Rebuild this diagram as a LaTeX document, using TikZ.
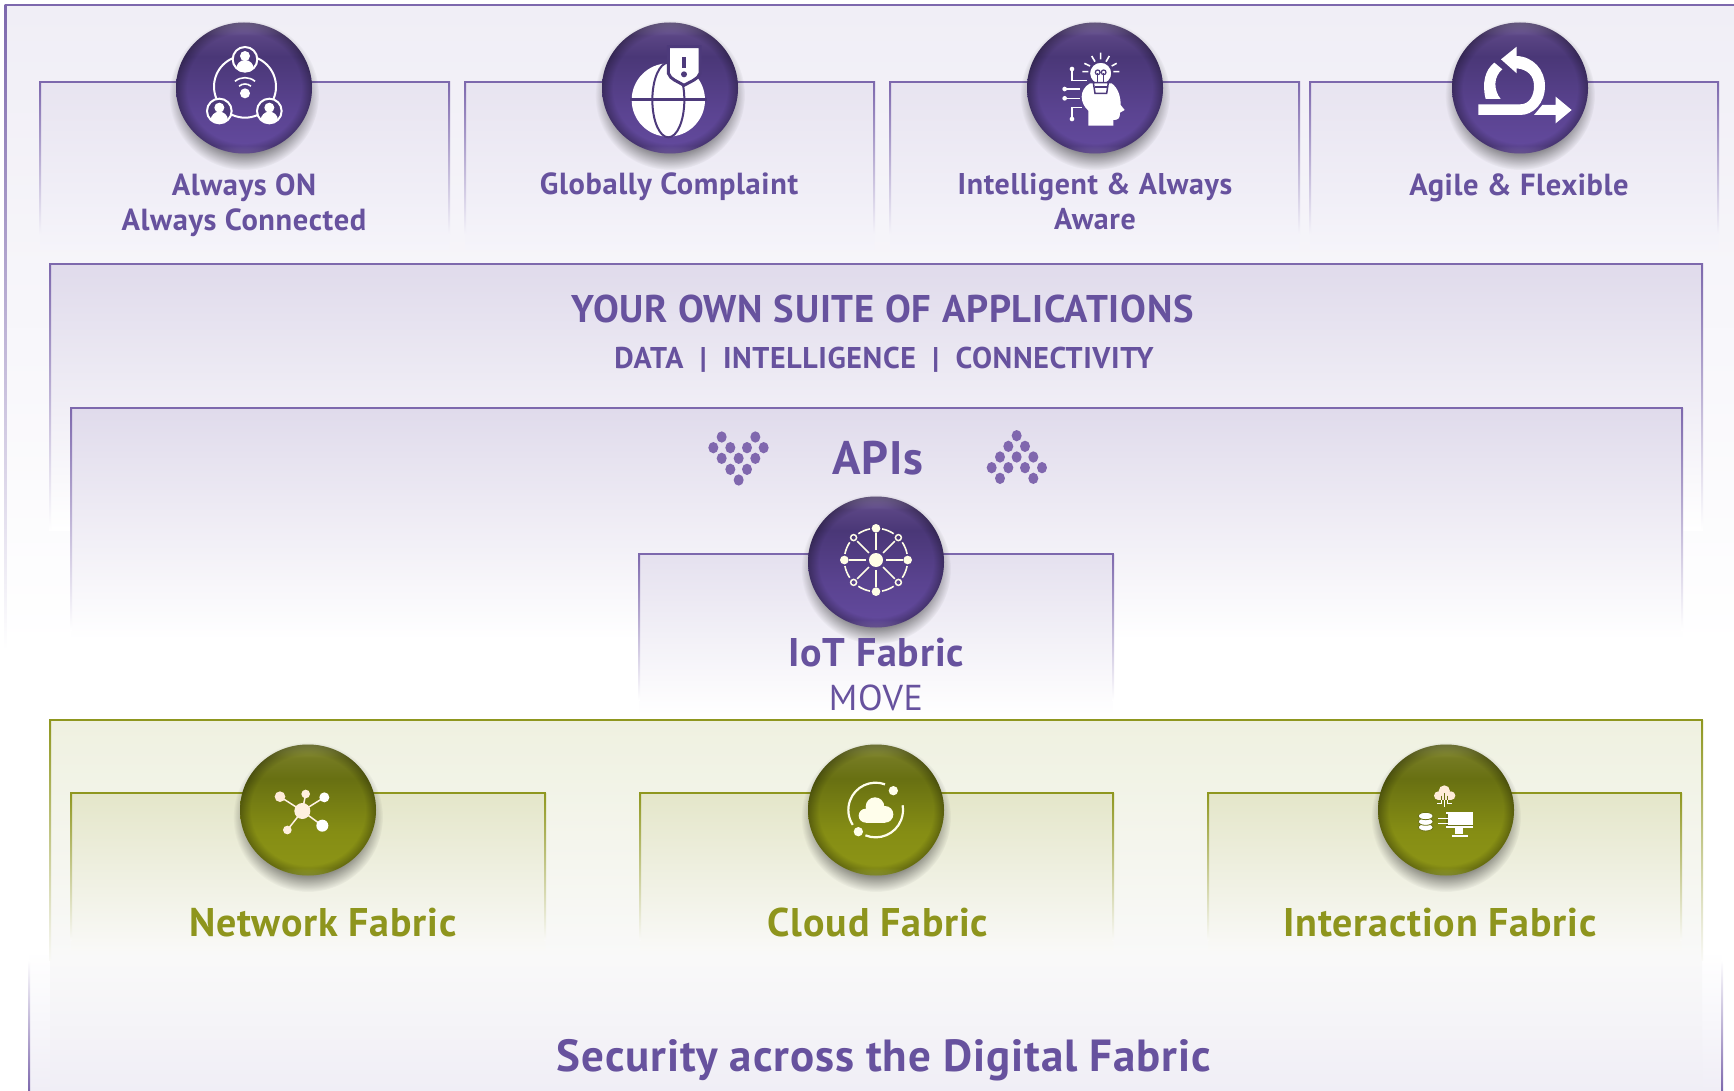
\documentclass[tikz,border=0pt]{standalone}
\usepackage{xcolor}
\usepackage{fontspec}
\setmainfont{PT Sans}[LetterSpace=2]
\usetikzlibrary{fadings,shapes.geometric}

\definecolor{linepurple}{HTML}{7D68AD}
\definecolor{textpurple}{HTML}{67529E}
\definecolor{dotpurple}{HTML}{8067AE}
\definecolor{balldark}{HTML}{4D3A7B}
\definecolor{lineolive}{HTML}{8F971F}
\definecolor{textolive}{HTML}{8E951D}
\definecolor{olivedark}{HTML}{6C7214}
\definecolor{pagetint}{HTML}{F0EEF6}
\definecolor{rowfade}{HTML}{F5F4FA}
\definecolor{olivefade}{HTML}{F9F9F7}
\definecolor{outertop}{HTML}{EFF1E0}
\definecolor{outermid}{HTML}{F9F9F9}
\definecolor{pr0}{HTML}{8B71C4}\definecolor{pr1}{HTML}{62499C}\definecolor{pr2}{HTML}{5A4390}
\definecolor{pr3}{HTML}{4A3777}\definecolor{pr4}{HTML}{5A4584}\definecolor{pr5}{HTML}{8D7BB0}
\definecolor{ol0}{HTML}{B0BB40}\definecolor{ol1}{HTML}{8C9416}\definecolor{ol2}{HTML}{858D14}
\definecolor{ol3}{HTML}{687012}\definecolor{ol4}{HTML}{757B22}\definecolor{ol5}{HTML}{9AA04E}

\pgfdeclareverticalshading{purpleball}{100bp}{color(0bp)=(pr0); color(25bp)=(pr0); color(28bp)=(pr1);
  color(42bp)=(pr2); color(62bp)=(pr3); color(70bp)=(pr4); color(75bp)=(pr5); color(100bp)=(pr5)}
\pgfdeclareverticalshading{oliveball}{100bp}{color(0bp)=(ol0); color(25bp)=(ol0); color(28bp)=(ol1);
  color(42bp)=(ol2); color(62bp)=(ol3); color(70bp)=(ol4); color(75bp)=(ol5); color(100bp)=(ol5)}
\pgfdeclareverticalshading{greenpanel}{100bp}{color(0bp)=(pagetint); color(25bp)=(pagetint); color(42.7bp)=(outermid);
  color(75bp)=(outertop); color(100bp)=(outertop)}
\pgfdeclareradialshading{shadowshade}{\pgfpointorigin}{color(0bp)=(black!55!white); color(19bp)=(black!55!white); color(25bp)=(black); color(50bp)=(black)}
\pgfdeclarefading{ballfade}{\pgfuseshading{shadowshade}}
\pgfdeclareradialshading{rimshade}{\pgfpointorigin}{color(0bp)=(black); color(21bp)=(black); color(25bp)=(black!70!white); color(50bp)=(black!70!white)}
\pgfdeclarefading{rimfade}{\pgfuseshading{rimshade}}

\begin{document}
\begin{tikzpicture}[x=1pt,y=-1pt,
    purple ball/.style={ellipse,minimum width=136pt,minimum height=131pt,inner sep=0pt,shading=purpleball},
    olive ball/.style={ellipse,minimum width=136pt,minimum height=131pt,inner sep=0pt,shading=oliveball},
    purple label/.style={text=textpurple,font=\fontsize{30.5}{35}\selectfont\bfseries,align=center,inner sep=0pt},
    olive label/.style={text=textolive,font=\fontsize{40}{44}\selectfont\bfseries,inner sep=0pt},
    icon line/.style={draw=white,line width=2pt},
    icon wheel/.style={draw=white!90!yellow,line width=1.6pt}]
  \useasboundingbox (0,0) rectangle (1734,1091);

  % outer frame
  \shade[top color=white,bottom color=pagetint] (29,950) rectangle (1722,1091);
  \shade[top color=white,bottom color=linepurple] (28,960) rectangle (30,1091);
  \shade[top color=white,bottom color=linepurple] (1721,960) rectangle (1723,1091);
  \shade[top color=pagetint,bottom color=white] (6,5) rectangle (1734,650);
  \shade[top color=linepurple,bottom color=white] (4.5,5) rectangle (6.5,650);
  \draw[linepurple,line width=2pt] (4.5,5.5) -- (1734,5.5);

  % top row
  \foreach \xa/\xb in {40/449,465/874,890/1299,1310/1718} {
    \shade[top color=white!82!linepurple,bottom color=rowfade] (\xa,82) rectangle (\xb,250);
    \shade[top color=linepurple,bottom color=rowfade] (\xa-1,82) rectangle (\xa+1,235);
    \shade[top color=linepurple,bottom color=rowfade] (\xb-1,82) rectangle (\xb+1,235);
    \draw[linepurple,line width=2pt] (\xa-1,82) -- (\xb+1,82);
  }

  % suite and API panels
  \shade[top color=white!76!linepurple,bottom color=white] (50,264) rectangle (1702,530);
  \shade[top color=linepurple,bottom color=white] (49,264) rectangle (51,530);
  \shade[top color=linepurple,bottom color=white] (1701,264) rectangle (1703,530);
  \draw[linepurple,line width=2pt] (49,264.5) -- (1703,264.5);
  \shade[top color=white!76!linepurple,bottom color=white] (71,408) rectangle (1682,640);
  \shade[top color=linepurple,bottom color=white] (70,408) rectangle (72,630);
  \shade[top color=linepurple,bottom color=white] (1681,408) rectangle (1683,630);
  \draw[linepurple,line width=2pt] (70,408) -- (1683,408);
  \shade[top color=white!80!linepurple,bottom color=white] (639,554) rectangle (1113,715);
  \shade[top color=linepurple,bottom color=white] (638,554) rectangle (640,700);
  \shade[top color=linepurple,bottom color=white] (1112,554) rectangle (1114,700);
  \draw[linepurple,line width=2pt] (638,554) -- (1114,554);

  % green panels
  \shade[shading=greenpanel] (50,720) rectangle (1702,1091);
  \shade[top color=lineolive,bottom color=olivefade] (49,720) rectangle (51,960);
  \shade[top color=lineolive,bottom color=olivefade] (1701,720) rectangle (1703,960);
  \draw[lineolive,line width=2pt] (49,720) -- (1703,720);
  \foreach \xa/\xb in {71/545,640/1113,1208/1681} {
    \shade[top color=white!76!lineolive,bottom color=olivefade] (\xa,793) rectangle (\xb,950);
    \shade[top color=lineolive,bottom color=olivefade] (\xa-1,793) rectangle (\xa+1,940);
    \shade[top color=lineolive,bottom color=olivefade] (\xb-1,793) rectangle (\xb+1,940);
    \draw[lineolive,line width=2pt] (\xa-1,793) -- (\xb+1,793);
  }

  % ball shadows
  \foreach \bx/\by in {244/88,670/88,1095/88,1520/88,876/562,308/810,876/810,1446/810}
    \fill[black,path fading=ballfade] (\bx,\by+7) circle (75);

  \node[purple ball] (alwayson) at (244,88) {};
  \node[purple ball] (compliant) at (670,88) {};
  \node[purple ball] (intelligent) at (1095,88) {};
  \node[purple ball] (agile) at (1520,88) {};
  \node[purple ball] (iot) at (876,562) {};
  \node[olive ball] (network) at (308,810) {};
  \node[olive ball] (cloud) at (876,810) {};
  \node[olive ball] (interaction) at (1446,810) {};

  % darker rims
  \foreach \bx/\by in {244/88,670/88,1095/88,1520/88,876/562,308/810,876/810,1446/810}
    \fill[black,path fading=rimfade] (\bx,\by) ellipse (68 and 65.5);

  % always on icon
  \begin{scope}[shift={(195,40)},scale=1/3]
    \draw[icon line] (150,140) circle (93);
    \foreach \px/\py in {150/58,73/213,223/213} {
      \fill[balldark] (\px,\py) circle (37);
      \begin{scope}
        \clip (\px,\py) circle (37);
        \fill[white] (\px,\py-10) circle (15);
        \fill[white] (\px,\py+28) ellipse (26 and 26);
      \end{scope}
      \draw[icon line] (\px,\py) circle (37);
    }
    \fill[white] (150,160) circle (15);
    \draw[white,line width=1.6pt] (150,160) ++(-130:28) arc (-130:-50:28);
    \draw[white,line width=1.6pt] (150,160) ++(-130:47) arc (-130:-50:47);
  \end{scope}

  % globe icon
  \begin{scope}[shift={(620,40)},scale=1/3]
    \fill[white] (145,180) circle (110);
    \draw[balldark,line width=2pt] (145,180) ellipse (48 and 112);
    \draw[balldark,line width=3pt] (30,178) -- (260,178);
    \fill[white,draw=balldark,line width=3pt] (145,20) -- (240,20) -- (240,100) .. controls (235,118) and (210,125) .. (192,136) .. controls (175,125) and (150,118) .. (145,100) -- cycle;
    \draw[balldark,line width=3.4pt] (192,52) -- (192,85);
    \fill[balldark] (192,103) circle (9);
  \end{scope}

  % head icon
  \begin{scope}[shift={(1050,40)},scale=1/3]
    \fill[white] (115,257) -- (115,212) .. controls (90,190) and (85,150) .. (120,130) -- (185,130) .. controls (205,145) and (212,170) .. (212,195) -- (224,210) -- (210,218) .. controls (210,235) and (205,240) .. (190,240) -- (190,257) -- cycle;
    \fill[white,draw=balldark,line width=1.5pt] (152,100) circle (34);
    \fill[white,draw=balldark,line width=1.5pt] (130,128) -- (175,128) -- (170,160) -- (135,160) -- cycle;
    \draw[balldark,line width=1.2pt] (134,141) -- (171,141) (143,128) -- (143,100) (161,128) -- (161,100);
    \draw[balldark,line width=1.2pt] (143,97) circle (7) (161,97) circle (7);
    \draw[white,line width=1.6pt] (152,38) -- (152,58) (125,48) -- (135,65) (178,48) -- (168,65) (103,70) -- (120,78) (200,70) -- (185,78) (97,95) -- (115,95) (190,95) -- (208,95);
    \draw[white,line width=1.3pt] (66,87) -- (66,122) -- (112,122) (44,147) -- (90,147) (44,175) -- (90,175) (66,237) -- (66,203) -- (95,203);
    \foreach \px/\py in {66/87,44/147,44/175,66/237} \fill[white] (\px,\py) circle (7);
  \end{scope}

  % agile icon
  \begin{scope}[shift={(1465,40)},scale=1/3]
    \fill[white] (40,193) -- (165,193) .. controls (195,193) and (207,165) .. (207,138) .. controls (207,105) and (185,88) .. (155,85) -- (155,100) -- (108,58) -- (155,20) -- (155,48) .. controls (205,50) and (240,90) .. (240,138) .. controls (240,190) and (205,225) .. (165,225) -- (40,225) -- cycle;
    \fill[white] (88,68) -- (112,88) .. controls (85,110) and (85,150) .. (107,177) -- (62,177) .. controls (50,130) and (60,90) .. (88,68) -- cycle;
    \fill[white] (207,225) -- (232,195) -- (272,195) -- (272,170) -- (320,210) -- (272,250) -- (272,225) -- cycle;
  \end{scope}

  % iot wheel icon
  \begin{scope}[shift={(620,400)},scale=1/3]
    \foreach \ang in {0,45,...,315} {
      \draw[icon wheel] (768,480) ++(\ang:30) -- ++(\ang:50);
      \draw[icon wheel] (768,480) ++(\ang+11:95) arc (\ang+11:\ang+34:95);
    }
    \fill[white!90!yellow] (768,480) circle (21);
    \foreach \ang in {0,90,180,270}
      \fill[white!90!yellow] (768,480) ++(\ang:95) circle (13);
    \foreach \ang in {45,135,225,315}
      \draw[draw=white!90!yellow,line width=1.5pt] (768,480) ++(\ang:95) circle (9);
  \end{scope}

  % network icon
  \begin{scope}[shift={(265,775)},scale=1/3]
    \foreach \px/\py in {45/65,122/57,178/67,172/152,67/165}
      \draw[white!90!orange,line width=1.5pt] (112,108) -- (\px,\py);
    \fill[white!88!orange] (112,108) circle (24);
    \fill[white!85!orange] (45,65) circle (16);
    \fill[white!88!orange] (122,57) circle (13);
    \fill[white] (178,67) circle (15);
    \fill[white] (172,152) circle (18);
    \fill[white!88!orange] (67,165) circle (13);
  \end{scope}

  % cloud icon
  \begin{scope}[shift={(835,775)},scale=1/3]
    \draw[white!92!yellow,line width=2.2pt] (122,105) ++(-70:82) arc (-70:-213:82);
    \draw[white!92!yellow,line width=2.2pt] (122,105) ++(112:82) arc (112:-10:82);
    \fill[white!92!yellow] (175,47) circle (14);
    \fill[white!92!yellow] (70,170) circle (14);
    \fill[white!92!yellow] (120,95) circle (28);
    \fill[white!92!yellow] (92,122) circle (21);
    \fill[white!92!yellow] (150,118) circle (25);
    \fill[white!92!yellow] (92,112) rectangle (150,143);
  \end{scope}

  % interaction icon
  \begin{scope}[shift={(1405,775)},scale=1/3]
    \fill[white!85!orange] (118,48) circle (17);
    \fill[white!85!orange] (100,62) circle (13);
    \fill[white!85!orange] (138,62) circle (13);
    \fill[white!85!orange] (100,55) rectangle (138,75);
    \draw[olivedark,line width=1pt] (118,55) -- (118,75) (108,62) -- (108,75) (128,62) -- (128,75);
    \draw[white,line width=1pt] (118,75) -- (118,95) (108,75) -- (108,85) -- (96,85) (128,75) -- (128,85) -- (140,85);
    \foreach \py in {157,140,123}
      \filldraw[fill=white,draw=olivedark,line width=.8pt] (62,\py) ellipse (22 and 11);
    \fill[white] (122,110) rectangle (205,158);
    \fill[white] (150,158) rectangle (175,178);
    \fill[white] (140,180) rectangle (188,187);
    \fill[olivedark] (122,118) rectangle (128,150);
    \draw[olivedark,line width=1pt] (122,150) -- (205,150);
    \draw[white,line width=1.3pt] (100,130) -- (146,130) (100,145) -- (146,145);
  \end{scope}

  % api dots
  \begin{scope}[shift={(620,400)},scale=1/3]
    \foreach \px/\py in {305/111,406/111,280/143,331/143,381/143,431/143,305/175,356/175,406/175,331/208,381/208,356/240,
        1190/107,1165/139,1215/139,1140/171,1190/171,1240/171,1115/203,1165/203,1215/203,1266/203,1140/235,1240/235}
      \fill[dotpurple] (\px,\py) ellipse (15 and 17);
  \end{scope}

  \node[purple label] (alwaysonlabel) at (244,205.5) {Always ON\\Always Connected};
  \node[purple label] (compliantlabel) at (669,187) {Globally Complaint};
  \node[purple label,font=\fontsize{30}{35}\selectfont\bfseries] (intelligentlabel) at (1095,202) {Intelligent \& Always\\Aware};
  \node[purple label] (agilelabel) at (1519,187.5) {Agile \& Flexible};

  \node[text=textpurple,font=\fontsize{38.6}{42}\selectfont\bfseries,inner sep=0pt] (suite) at (882.5,309) {YOUR OWN SUITE OF APPLICATIONS};
  \node[text=textpurple,font=\fontsize{30}{36}\selectfont\bfseries,inner sep=0pt] (pillars) at (884,360) {DATA\ \ |\ \ INTELLIGENCE\ \ |\ \ CONNECTIVITY};
  \node[text=textpurple,font=\fontsize{47}{52}\selectfont\bfseries,inner sep=0pt] (apis) at (878,458.5) {APIs};
  \node[text=textpurple,font=\fontsize{40}{44}\selectfont\bfseries,inner sep=0pt] (iotlabel) at (876,653) {IoT Fabric};
  \node[text=textpurple,font=\fontsize{36}{40}\selectfont,inner sep=0pt] (move) at (876,698) {MOVE};
  \node[olive label] (networklabel) at (323,923) {Network Fabric};
  \node[olive label] (cloudlabel) at (878,922) {Cloud Fabric};
  \node[olive label] (interactionlabel) at (1440,923) {Interaction Fabric};
  \node[text=textpurple,font=\fontsize{45}{50}\selectfont\bfseries,inner sep=0pt] (security) at (884,1060) {Security across the Digital Fabric};
\end{tikzpicture}
\end{document}
